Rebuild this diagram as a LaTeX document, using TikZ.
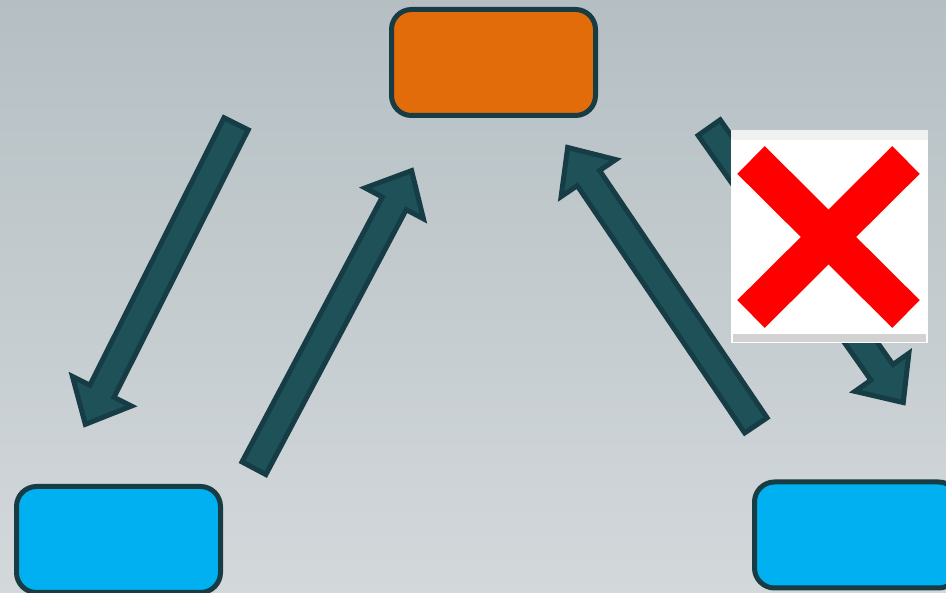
\documentclass[tikz,border=0pt]{standalone}
\usetikzlibrary{calc}
\definecolor{bgtop}{HTML}{B5BFC3}
\definecolor{bgbot}{HTML}{D3D8DB}
\definecolor{arrowfill}{HTML}{1F5158}
\definecolor{arrowline}{HTML}{163D45}
\definecolor{boxline}{HTML}{173C44}
\definecolor{boxorange}{HTML}{E36C0A}
\definecolor{boxblue}{HTML}{00B0F0}
\definecolor{xred}{HTML}{FF0000}
\definecolor{striptop}{HTML}{F0F0F0}
\definecolor{stripbot}{HTML}{D2D2D2}
\tikzset{
  box/.style={draw=boxline, line width=5pt, rounded corners=20pt,
    minimum width=204pt, minimum height=106pt, inner sep=0pt},
  barrow/.style={fill=arrowfill, draw=arrowline, line width=5pt, line join=miter},
}
\newcommand\blockarrow[2]{%
  \coordinate (t) at ($(#1)!2pt!(#2)$);
  \coordinate (p) at ($(#2)!3pt!(#1)$);
  \coordinate (q) at ($(p)!37pt!(t)$);
  \draw[barrow] ($(t)!13.5pt!90:(p)$) -- ($(q)!13.5pt!90:(p)$) --
    ($(q)!33pt!90:(p)$) -- (p) -- ($(q)!33pt!-90:(p)$) --
    ($(q)!13.5pt!-90:(p)$) -- ($(t)!13.5pt!-90:(p)$) -- cycle;
}
\begin{document}
\begin{tikzpicture}[x=1pt,y=-1pt]
  \useasboundingbox (0,0) rectangle (946,593);
  \shade[top color=bgtop, bottom color=bgbot] (0,0) rectangle (946,593);
  % boxes
  \node[box, fill=boxorange] (top) at (493.5,62.5) {};
  \node[box, fill=boxblue] (left) at (118.5,539.5) {};
  \node[box, fill=boxblue] (right) at (856.5,535) {};
  % arrow end points
  \coordinate (a1s) at (237,122);
  \coordinate (a1e) at (84,427);
  \coordinate (a2s) at (253,470);
  \coordinate (a2e) at (413,168);
  \coordinate (a3s) at (757,427);
  \coordinate (a3e) at (566,145);
  \coordinate (a4s) at (708,126);
  \coordinate (a4e) at (905,405);
  \blockarrow{a1s}{a1e}
  \blockarrow{a2s}{a2e}
  \blockarrow{a3s}{a3e}
  \blockarrow{a4s}{a4e}
  % cross picture
  \fill[white] (731,130) rectangle (928,343);
  \fill[striptop] (731,130) rectangle (928,140);
  \fill[stripbot] (733,334) rectangle (926,342);
  \draw[xred, line width=39pt, line cap=butt] (751,160) -- (906,314);
  \draw[xred, line width=39pt, line cap=butt] (906,160) -- (751,314);
\end{tikzpicture}
\end{document}
